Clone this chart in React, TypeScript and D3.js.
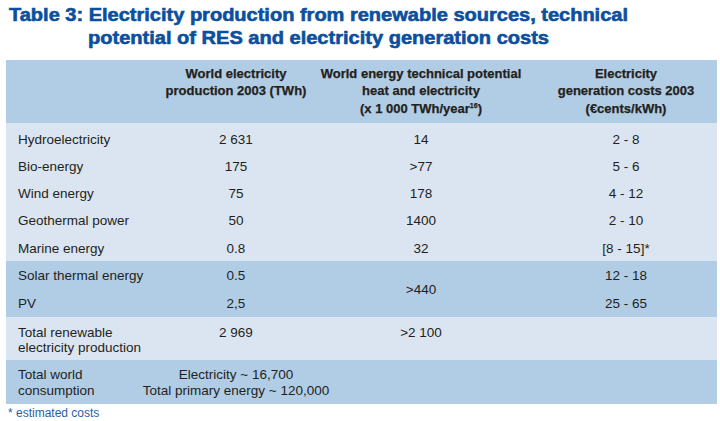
import React from "react";
import * as d3 from "d3";

const titleLines = [
  "Table 3: Electricity production from renewable sources, technical",
  "potential of RES and electricity generation costs",
];
const headers = [
  ["World electricity", "production 2003 (TWh)"],
  ["World energy technical potential", "heat and electricity", "x 1 000 TWh/year"],
  ["Electricity", "generation costs 2003", "(€cents/kWh)"],
];
const sources = ["Hydroelectricity", "Bio-energy", "Wind energy", "Geothermal power", "Marine energy"];
const production = ["2 631", "175", "75", "50", "0.8"];
const potential = ["14", ">77", "178", "1400", "32"];
const costs = ["2 - 8", "5 - 6", "4 - 12", "2 - 10", "[8 - 15]*"];
const solarSources = ["Solar thermal energy", "PV"];
const solarProduction = ["0.5", "2,5"];
const solarPotential = ">440";
const solarCosts = ["12 - 18", "25 - 65"];
const totalLabel = ["Total renewable", "electricity production"];
const totalProduction = "2 969";
const totalPotential = ">2 100";
const worldLabel = ["Total world", "consumption"];
const worldValues = ["Electricity ~ 16,700", "Total primary energy ~ 120,000"];
const footnote = "* estimated costs";

const W = 720;
const H = 421;
const DARK = "#b1cde5";
const LIGHT = "#dbe5f1";
const TXT = "#231f20";
const BLUE = "#0b4f9e";

export default function App() {
  const colX = d3.scaleOrdinal<string, number>().domain(["label", "c1", "c2", "c3"]).range([18, 236, 421, 626]);
  const rowY = d3.scalePoint<string>().domain(sources).range([139, 248]);
  const solarY = d3.scalePoint<string>().domain(solarSources).range([275, 303]);
  const font = "'Liberation Sans', Arial, sans-serif";
  const dy = 4.7;
  const T = (x: number, y: number, s: string, anchor = "middle", extra: any = {}) => (
    <text x={x} y={y + dy} textAnchor={anchor} fontSize={13.5} fill={TXT} {...extra}>{s}</text>
  );
  return (
    <svg width={W} height={H} style={{ position: "absolute", left: 0, top: 0, fontFamily: font }}>
      <rect x={0} y={0} width={W} height={H} fill="#fff" />
      {/* title */}
      <text x={9} y={21} fontSize={18.5} fontWeight="bold" fill={BLUE} stroke={BLUE} strokeWidth={0.6} textLength={619} lengthAdjust="spacingAndGlyphs">{titleLines[0]}</text>
      <text x={88} y={44} fontSize={18.5} fontWeight="bold" fill={BLUE} stroke={BLUE} strokeWidth={0.6} textLength={461} lengthAdjust="spacingAndGlyphs">{titleLines[1]}</text>
      {/* bands */}
      <rect x={6} y={60} width={711} height={63} fill={DARK} />
      <rect x={6} y={123} width={711} height={138} fill={LIGHT} />
      <rect x={6} y={261} width={711} height={56} fill={DARK} />
      <rect x={6} y={317} width={711} height={43} fill={LIGHT} />
      <rect x={6} y={360} width={711} height={44} fill={DARK} />
      {/* headers */}
      {headers.map((h, i) => (
        <g key={i}>
          {h.map((line, j) => (
            <text key={j} x={colX(["c1", "c2", "c3"][i])} y={77.5 + j * 17.5} textAnchor="middle" fontSize={13} fontWeight="bold" fill={TXT} stroke={TXT} strokeWidth={0.25}>
              {i === 1 && j === 2 ? (
                <>
                  {"(" + line}
                  <tspan fontSize={7} dy={-5}>16</tspan>
                  <tspan dy={5}>)</tspan>
                </>
              ) : line}
            </text>
          ))}
        </g>
      ))}
      {/* main rows */}
      {sources.map((s, i) => (
        <g key={s}>
          {T(colX("label"), rowY(s)!, s, "start")}
          {T(colX("c1"), rowY(s)!, production[i])}
          {T(colX("c2"), rowY(s)!, potential[i])}
          {T(colX("c3"), rowY(s)!, costs[i])}
        </g>
      ))}
      {solarSources.map((s, i) => (
        <g key={s}>
          {T(colX("label"), solarY(s)!, s, "start")}
          {T(colX("c1"), solarY(s)!, solarProduction[i])}
          {T(colX("c3"), solarY(s)!, solarCosts[i])}
        </g>
      ))}
      {T(colX("c2"), 289, solarPotential)}
      {totalLabel.map((l, i) => <g key={l}>{T(colX("label"), 332 + i * 15.5, l, "start")}</g>)}
      {T(colX("c1"), 332, totalProduction)}
      {T(colX("c2"), 332, totalPotential)}
      {worldLabel.map((l, i) => <g key={l}>{T(colX("label"), 374 + i * 16, l, "start")}</g>)}
      {worldValues.map((l, i) => <g key={l}>{T(colX("c1"), 374 + i * 16, l)}</g>)}
      <text x={8} y={417} fontSize={12} fill="#1f5fa8">{footnote}</text>
    </svg>
  );
}
